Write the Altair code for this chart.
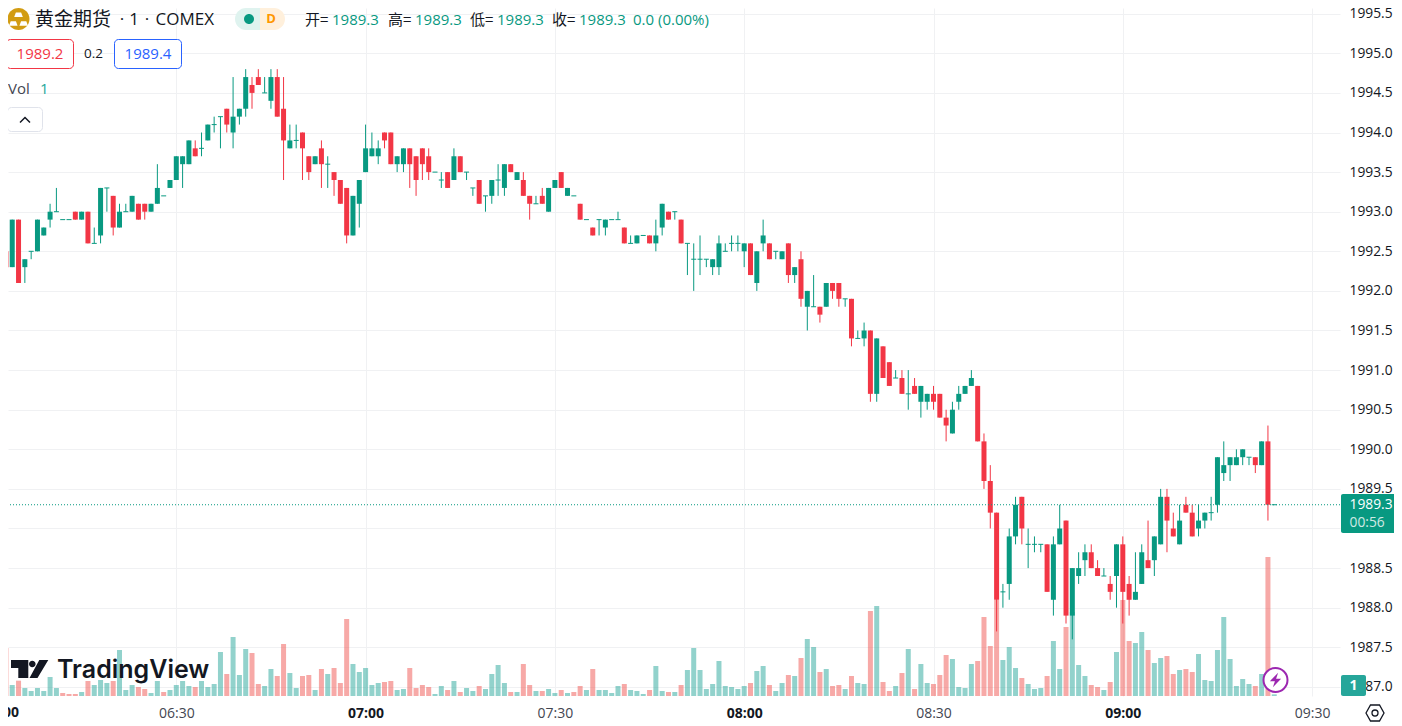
import altair as alt
import pandas as pd

# bar index: 0 is the 06:30 bar, one bar per minute
first_bar = -28
opens = [
 1993.3,1992.5,1992.3,1992.9,1992.3,1992.5,1992.5,1992.7,1992.9,1993.0,
 1992.9,1992.9,1993.0,1992.9,1993.0,1992.6,1992.7,1993.3,1993.2,1992.8,
 1993.0,1993.0,1993.1,1993.1,1993.0,1993.1,1993.2,1993.3,1993.4,1993.6,
 1993.6,1993.8,1993.8,1993.9,1994.1,1994.2,1994.3,1994.0,1994.2,1994.3,
 1994.6,1994.7,1994.5,1994.4,1994.7,1994.3,1993.8,1993.9,1994.0,1993.7,
 1993.6,1993.8,1993.6,1993.5,1993.4,1993.3,1992.7,1993.1,1993.5,1993.7,
 1993.7,1994.0,1994.0,1993.6,1993.6,1993.8,1993.7,1993.8,1993.7,1993.5,
 1993.4,1993.5,1993.4,1993.7,1993.5,1993.3,1993.4,1993.2,1993.2,1993.4,
 1993.3,1993.6,1993.4,1993.4,1993.2,1993.1,1993.2,1993.0,1993.3,1993.5,
 1993.2,1993.2,1993.1,1992.9,1992.8,1992.9,1992.8,1992.9,1992.9,1992.8,
 1992.6,1992.6,1992.7,1992.7,1992.6,1992.8,1993.0,1993.0,1992.9,1992.6,
 1992.4,1992.4,1992.4,1992.3,1992.3,1992.5,1992.6,1992.6,1992.5,1992.6,
 1992.1,1992.6,1992.6,1992.5,1992.4,1992.6,1992.2,1992.4,1991.8,1991.8,
 1991.8,1991.8,1992.1,1992.1,1991.9,1991.9,1991.4,1991.4,1991.5,1990.7,
 1991.3,1991.1,1990.9,1990.9,1990.7,1990.8,1990.6,1990.6,1990.7,1990.7,
 1990.4,1990.2,1990.6,1990.7,1990.8,1990.8,1990.1,1989.6,1989.2,1988.2,
 1988.3,1988.9,1989.4,1988.8,1988.8,1988.8,1988.8,1988.1,1988.8,1989.1,
 1987.9,1988.4,1988.6,1988.7,1988.5,1988.4,1988.3,1988.4,1988.8,1988.3,
 1988.1,1988.3,1988.6,1988.6,1988.8,1989.4,1989.0,1988.8,1989.3,1989.2,
 1989.0,1989.1,1989.2,1989.3,1989.7,1989.8,1989.8,1989.9,1989.9,1989.9,
 1989.8,1990.1,1989.3]
highs = [
 1993.3,1992.5,1992.9,1992.9,1992.4,1992.5,1992.9,1992.8,1993.1,1993.3,
 1992.9,1992.9,1993.0,1993.0,1993.0,1992.8,1993.3,1993.3,1993.2,1993.1,
 1993.1,1993.2,1993.1,1993.1,1993.1,1993.6,1993.2,1993.4,1993.7,1993.7,
 1993.9,1993.9,1994.0,1994.1,1994.2,1994.2,1994.3,1994.7,1994.3,1994.8,
 1994.7,1994.8,1994.7,1994.8,1994.8,1994.7,1994.1,1994.1,1994.0,1993.7,
 1993.7,1993.9,1993.7,1993.5,1993.4,1993.3,1993.2,1993.4,1994.1,1994.0,
 1993.9,1994.0,1994.0,1993.7,1993.8,1993.8,1993.7,1993.8,1993.8,1993.5,
 1993.5,1993.5,1993.8,1993.7,1993.5,1993.3,1993.4,1993.2,1993.4,1993.6,
 1993.6,1993.6,1993.5,1993.5,1993.2,1993.2,1993.3,1993.3,1993.4,1993.5,
 1993.3,1993.2,1993.1,1992.9,1992.8,1992.9,1992.9,1992.9,1993.0,1992.8,
 1992.7,1992.7,1992.7,1992.7,1992.9,1993.1,1993.0,1993.0,1992.9,1992.6,
 1992.6,1992.7,1992.4,1992.4,1992.7,1992.6,1992.7,1992.7,1992.6,1992.6,
 1992.5,1992.9,1992.6,1992.5,1992.5,1992.6,1992.3,1992.5,1992.0,1992.2,
 1991.8,1992.1,1992.1,1992.1,1991.9,1991.9,1991.5,1991.6,1991.5,1991.4,
 1991.3,1991.1,1991.0,1991.0,1991.0,1990.9,1990.8,1990.7,1990.8,1990.7,
 1990.5,1990.6,1990.8,1990.8,1991.0,1990.8,1990.2,1989.8,1989.2,1988.3,
 1989.0,1989.4,1989.4,1989.0,1988.9,1988.8,1988.8,1988.9,1989.3,1989.1,
 1988.5,1988.7,1988.8,1988.8,1988.6,1988.5,1988.4,1988.8,1988.9,1988.4,
 1988.7,1988.8,1989.1,1988.9,1989.5,1989.5,1989.2,1989.3,1989.4,1989.3,
 1989.3,1989.2,1989.4,1989.9,1990.1,1989.9,1990.0,1990.0,1989.9,1989.9,
 1990.1,1990.3,1989.3]
lows = [
 1992.3,1992.2,1992.3,1992.1,1992.1,1992.4,1992.5,1992.7,1992.8,1993.0,
 1992.9,1992.9,1992.9,1992.9,1992.6,1992.6,1992.6,1993.0,1992.7,1992.8,
 1993.0,1993.0,1992.9,1992.9,1993.0,1993.1,1993.2,1993.3,1993.4,1993.3,
 1993.6,1993.7,1993.7,1993.9,1994.0,1993.8,1994.0,1993.8,1994.1,1994.2,
 1994.3,1994.6,1994.5,1994.3,1994.2,1993.4,1993.8,1993.8,1993.4,1993.4,
 1993.6,1993.3,1993.3,1993.2,1993.1,1992.6,1992.7,1992.8,1993.5,1993.7,
 1993.6,1993.8,1993.6,1993.5,1993.5,1993.3,1993.2,1993.4,1993.4,1993.5,
 1993.3,1993.3,1993.4,1993.5,1993.4,1993.2,1993.1,1993.0,1993.1,1993.2,
 1993.2,1993.5,1993.4,1993.2,1992.9,1993.1,1993.1,1993.0,1993.3,1993.3,
 1993.2,1993.2,1992.9,1992.9,1992.7,1992.7,1992.7,1992.9,1992.9,1992.6,
 1992.6,1992.6,1992.7,1992.6,1992.5,1992.7,1992.9,1992.9,1992.6,1992.2,
 1992.0,1992.2,1992.3,1992.2,1992.2,1992.5,1992.5,1992.5,1992.3,1992.2,
 1992.0,1992.5,1992.4,1992.4,1992.4,1992.1,1992.1,1991.8,1991.5,1991.8,
 1991.6,1991.8,1991.9,1991.8,1991.8,1991.3,1991.4,1991.3,1990.6,1990.6,
 1990.9,1990.8,1990.9,1990.7,1990.5,1990.7,1990.4,1990.5,1990.5,1990.4,
 1990.1,1990.2,1990.5,1990.7,1990.8,1990.1,1989.5,1989.0,1987.7,1988.0,
 1988.1,1988.8,1988.8,1988.5,1988.7,1988.7,1988.2,1987.9,1988.8,1987.8,
 1987.6,1988.3,1988.4,1988.5,1988.4,1988.4,1988.1,1988.0,1987.8,1987.9,
 1988.1,1988.3,1988.5,1988.4,1988.8,1988.7,1988.9,1988.8,1989.2,1988.9,
 1988.9,1989.0,1989.1,1989.2,1989.6,1989.6,1989.8,1989.8,1989.8,1989.7,
 1989.8,1989.1,1989.3]
closes = [
 1992.3,1992.3,1992.9,1992.1,1992.4,1992.5,1992.9,1992.8,1993.0,1993.0,
 1992.9,1992.9,1992.9,1993.0,1992.6,1992.6,1993.3,1993.3,1992.8,1993.0,
 1993.0,1993.2,1992.9,1993.0,1993.1,1993.3,1993.2,1993.4,1993.7,1993.7,
 1993.9,1993.7,1993.8,1994.1,1994.1,1994.2,1994.1,1994.2,1994.3,1994.7,
 1994.5,1994.6,1994.5,1994.7,1994.2,1993.9,1993.9,1993.9,1993.8,1993.5,
 1993.7,1993.6,1993.6,1993.4,1993.1,1992.7,1993.2,1993.4,1993.8,1993.8,
 1993.8,1993.9,1993.6,1993.7,1993.8,1993.6,1993.4,1993.6,1993.5,1993.5,
 1993.4,1993.3,1993.7,1993.5,1993.5,1993.3,1993.1,1993.2,1993.4,1993.4,
 1993.6,1993.5,1993.5,1993.2,1993.1,1993.1,1993.1,1993.3,1993.4,1993.3,
 1993.3,1993.2,1992.9,1992.9,1992.7,1992.9,1992.9,1992.9,1992.9,1992.6,
 1992.6,1992.7,1992.7,1992.6,1992.7,1993.1,1992.9,1993.0,1992.6,1992.6,
 1992.4,1992.4,1992.4,1992.4,1992.6,1992.5,1992.6,1992.6,1992.6,1992.2,
 1992.5,1992.7,1992.4,1992.5,1992.5,1992.2,1992.3,1991.9,1992.0,1991.8,
 1991.7,1992.1,1992.0,1991.9,1991.9,1991.4,1991.4,1991.5,1990.7,1991.4,
 1990.9,1990.8,1990.9,1990.7,1990.7,1990.7,1990.8,1990.7,1990.6,1990.4,
 1990.3,1990.5,1990.7,1990.8,1990.9,1990.1,1989.6,1989.2,1988.1,1988.2,
 1988.9,1989.3,1989.0,1988.8,1988.8,1988.8,1988.2,1988.8,1989.0,1987.9,
 1988.5,1988.5,1988.7,1988.5,1988.4,1988.4,1988.2,1988.8,1988.2,1988.1,
 1988.2,1988.7,1988.5,1988.9,1989.4,1989.1,1988.9,1989.1,1989.2,1988.9,
 1989.1,1989.2,1989.2,1989.9,1989.8,1989.9,1989.9,1990.0,1989.9,1989.8,
 1990.1,1989.3,1989.3]
volumes = [
 177,144,33,46,24,15,24,15,57,24,
 9,6,6,12,45,33,48,39,45,138,
 18,33,27,21,9,45,12,18,33,45,
 30,27,45,27,36,132,66,177,63,141,
 129,36,30,81,60,156,69,24,60,63,
 18,81,66,84,39,231,96,72,84,33,
 39,42,45,18,21,84,24,33,27,6,
 30,18,45,12,24,15,30,21,66,93,
 39,12,12,96,33,15,15,21,9,18,
 9,12,30,18,81,18,18,9,30,36,
 18,15,6,18,90,15,12,12,33,78,
 144,78,21,36,105,30,27,21,30,39,
 75,90,33,15,39,63,60,114,171,147,
 72,81,30,33,21,60,39,36,255,270,
 42,15,30,69,141,21,96,39,36,63,
 123,111,27,24,96,105,237,150,288,108,
 147,84,54,36,21,24,60,165,81,207,
 252,93,60,33,27,18,42,132,288,165,
 159,192,138,99,114,120,66,78,81,72,
 126,48,45,138,237,111,30,51,36,30,
 66,417,5]
# one letter per bar: u = teal volume bar, d = pink volume bar
volume_sides = (
 "ddud" "uuuuuu" "ddduduuudu" "uudduuduuu" "uduuuuduuu" "dduudduudd"
 "ududdduuuu" "udduuddddu" "ududuuduuu" "ududduduud" "udduduuuud"
 "uuuduududu" "uuuuuuuuud" "uuduududuu" "dudduduudu" "ddududuudd"
 "duuuuddddu" "uuduuuduud" "uuuddududd" "uuduuddudd" "uuuuuuuuud" "udu"
)
price_ticks = [1987.0, 1987.5, 1988.0, 1988.5, 1989.0, 1989.5, 1990.0, 1990.5, 1991.0,
               1991.5, 1992.0, 1992.5, 1993.0, 1993.5, 1994.0, 1994.5, 1995.0, 1995.5]
time_ticks = [0, 30, 60, 90, 120, 150, 180]
last_price = 1989.3

RED, GREEN = "#f23645", "#089981"
INK = "#131722"
GRID = "#f0f1f3"
CJK = "Noto Sans CJK SC"
UI = "Open Sans"
W, H = 1332, 688
X_DOMAIN = [-26.67, 184.42]
Y_DOMAIN = [1986.885, 1995.572]
VOL_DOMAIN = [0, 2064]

df = pd.DataFrame({"k": range(first_bar, first_bar + len(opens)), "o": opens, "h": highs, "l": lows,
                   "c": closes, "v": volumes})
df["candle"] = [RED if c < o else GREEN for o, c in zip(opens, closes)]
df["bar"] = ["#26a69a" if s == "u" else "#ef5350" for s in volume_sides]
bodies = df[df.o != df.c]
dojis = df[df.o == df.c]

x_scale = alt.Scale(domain=X_DOMAIN, nice=False, zero=False, padding=0)
x = alt.X("k:Q", scale=x_scale,
          axis=alt.Axis(values=time_ticks, title=None, ticks=False, domain=False, grid=True,
                        gridColor=GRID, gridWidth=1, labelPadding=10, labelFont=UI, labelFontSize=14,
                        labelAngle=0, labelOverlap=False,
                        labelExpr="['06:30','07:00','07:30','08:00','08:30','09:00','09:30'][datum.value/30]",
                        labelColor={"condition": {"test": "datum.value % 60 == 30", "value": INK}, "value": "#434651"},
                        labelFontWeight={"condition": {"test": "datum.value % 60 == 30", "value": "bold"}, "value": "normal"}))
x_plain = alt.X("k:Q", scale=x_scale)
y_price = alt.Scale(domain=Y_DOMAIN, nice=False, zero=False)
price_axis = alt.Axis(values=price_ticks, format=".1f", title=None, orient="right", ticks=False, domain=False,
                      grid=True, gridColor=GRID, gridWidth=1, labelPadding=9, labelFont=UI, labelFontSize=13.8,
                      labelColor=INK, labelAlign="left", labelOverlap=False)
candle_color = alt.Color("candle:N", scale=None)

vol = alt.Chart(df).mark_bar(size=5, clip=True, opacity=0.5).encode(
    x=x,
    y=alt.Y("v:Q", scale=alt.Scale(domain=VOL_DOMAIN, nice=False), axis=None),
    color=alt.Color("bar:N", scale=None),
)
wicks = alt.Chart(df).mark_rule(strokeWidth=1, clip=True).encode(
    x=x_plain, y=alt.Y("l:Q", scale=y_price, axis=price_axis), y2="h:Q", color=candle_color)
body = alt.Chart(bodies).mark_bar(size=5, clip=True).encode(
    x=x_plain, y=alt.Y("o:Q", scale=y_price), y2="c:Q", color=candle_color)
doji = alt.Chart(dojis).mark_tick(orient="horizontal", size=5, thickness=1, clip=True, opacity=1).encode(
    x=x_plain, y=alt.Y("c:Q", scale=y_price), color=candle_color)
last_line = alt.Chart(pd.DataFrame({"p": [last_price]})).mark_rule(
    color=GREEN, strokeWidth=1, strokeDash=[1, 2], clip=True).encode(y=alt.Y("p:Q", scale=y_price))
price = alt.layer(wicks, body, doji, last_line)

one = pd.DataFrame({"a": [0]})
def P(v):
    return alt.value(v - 8)

def txt(s, px, py, color=INK, size=15, align="left", weight="normal", font=UI, opacity=1):
    return alt.Chart(one).mark_text(text=s, align=align, baseline="middle", color=color, fontSize=size,
                                    fontWeight=weight, font=font, opacity=opacity).encode(x=P(px), y=P(py))

def box(x0, x1, y0, y1, **kw):
    return alt.Chart(one).mark_rect(**kw).encode(x=P(x0), x2=P(x1), y=P(y0), y2=P(y1))

def icon(path, px, py, fill=None, stroke=None, sw=0):
    if fill:
        m = alt.Chart(one).mark_point(shape=path, size=4, filled=True, fill=fill, opacity=1, strokeWidth=0)
    else:
        m = alt.Chart(one).mark_point(shape=path, size=4, filled=False, stroke=stroke, strokeWidth=sw, opacity=1)
    return m.encode(x=P(px), y=P(py))

TRAP = "M-2.6 -2.3 L2.6 -2.3 L4.3 2.3 L-4.3 2.3 Z"
BOLT = "M2.6 -7.2 L-5.6 1.2 L-0.6 1.2 L-2.6 7.2 L5.6 -1.2 L0.6 -1.2 Z"
LOGO = ("M-18.5 -9 L-1.2 -9 L-1.2 9 L-11.2 9 L-11.2 -1 L-18.5 -1 Z "
        "M6.1 -5 A3.3 3.3 0 1 1 -0.5 -5 A3.3 3.3 0 1 1 6.1 -5 Z "
        "M9.8 -9 L18.8 -9 L8 9 L0 9 Z")
HEX = ("M-9 0 L-4.5 -8 L4.5 -8 L9 0 L4.5 8 L-4.5 8 Z "
       "M3 0 A3 3 0 1 1 -3 0 A3 3 0 1 1 3 0 Z")

decor = [
    # title row
    icon("M11 0 A11 11 0 1 1 -11 0 A11 11 0 1 1 11 0 Z", 18.5, 19, fill="#d29c12"),
    icon(TRAP, 18.5, 14.7, fill="white"), icon(TRAP, 13.3, 23.5, fill="white"), icon(TRAP, 23.7, 23.5, fill="white"),
    txt("黄金期货", 35, 20, size=19, font=CJK),
    txt("·", 122, 20, size=17, align="center"),
    txt("1", 134, 20, size=17, align="center"),
    txt("·", 147, 20, size=17, align="center"),
    txt("COMEX", 155.5, 20, size=17),
    box(235, 260, 8, 30, fill="#dff3ef", cornerRadiusTopLeft=11, cornerRadiusBottomLeft=11),
    box(260, 285, 8, 30, fill="#fff0dc", cornerRadiusTopRight=11, cornerRadiusBottomRight=11),
    icon("M5 0 A5 5 0 1 1 -5 0 A5 5 0 1 1 5 0 Z", 249, 19, fill=GREEN),
    txt("D", 271, 19, color="#ff9800", size=13, align="center", weight="bold"),
    # OHLC readout
    txt("开=", 305, 20, font=CJK), txt("1989.3", 332, 20, color=GREEN),
    txt("高=", 388, 20, font=CJK), txt("1989.3", 415, 20, color=GREEN),
    txt("低=", 470, 20, font=CJK), txt("1989.3", 497, 20, color=GREEN),
    txt("收=", 552, 20, font=CJK), txt("1989.3", 579, 20, color=GREEN),
    txt("0.0 (0.00%)", 633, 20, color=GREEN),
    # bid / ask
    box(6.5, 73.5, 39.5, 68.5, fill="white", stroke=RED, strokeWidth=1, cornerRadius=4),
    txt("1989.2", 40, 54, color=RED, align="center"),
    txt("0.2", 93.5, 54, align="center", size=13.5),
    box(114.5, 181.5, 39.5, 68.5, fill="white", stroke="#2962ff", strokeWidth=1, cornerRadius=4),
    txt("1989.4", 148, 54, color="#2962ff", align="center"),
    # volume legend
    txt("Vol", 8, 89, color="#434651"), txt("1", 40, 89, color="#26a69a"),
    box(7.5, 42.5, 107.5, 131.5, fill="white", stroke="#e0e3eb", strokeWidth=1, cornerRadius=4),
    icon("M-5 3 L0 -2 L5 3", 25, 119.5, stroke=INK, sw=1.5),
    # watermark
    icon(LOGO, 29.5, 669, fill=INK),
    txt("TradingView", 57, 669.5, size=25, weight=600, font="Inter"),
    icon("M12.5 0 A12.5 12.5 0 1 1 -12.5 0 A12.5 12.5 0 1 1 12.5 0 Z", 1275.5, 680, fill="white"),
    icon("M12 0 A12 12 0 1 1 -12 0 A12 12 0 1 1 12 0 Z", 1275.5, 680, stroke="#9c27b0", sw=2),
    icon(BOLT, 1275.5, 680, fill="#9c27b0"),
    # price-scale badges
    box(1341, 1394, 494, 533, fill=GREEN, cornerRadiusTopLeft=2, cornerRadiusBottomLeft=2),
    txt("1989.3", 1349.5, 505, color="white", size=13.8),
    txt("00:56", 1349.5, 523, color="white", size=13.8, opacity=0.8),
    box(1341, 1366, 675, 696, fill="#26a69a", cornerRadius=2),
    txt("1", 1353.5, 686, color="white", size=14, align="center", weight="bold"),
    # time-scale extras
    txt("06:00", 1, 713, size=14, align="center", weight="bold"),
    icon(HEX, 1375, 713, stroke=INK, sw=1.3),
]

chart = alt.layer(vol, price, *decor).resolve_scale(y="independent").properties(
    width=W, height=H,
    autosize=alt.AutoSizeParams(type="none"),
    padding={"left": 0, "top": 0, "right": 54, "bottom": 30},
    background="white",
).configure_view(stroke=None)

chart.save("out.html", embed_options={"renderer": "svg", "actions": False})
